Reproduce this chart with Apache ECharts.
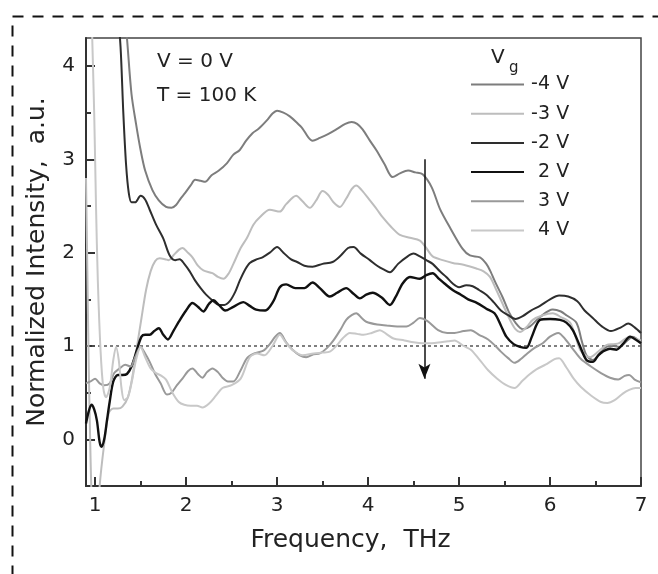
<!DOCTYPE html>
<html><head><meta charset="utf-8">
<script src="https://cdn.jsdelivr.net/npm/echarts@6/dist/echarts.min.js"></script>
<style>html,body{margin:0;padding:0;background:#fff}#c{width:658px;height:574px}</style>
</head><body><div id="c"></div>
<script>
const seriesNames = ['-4 V','-3 V','-2 V','2 V','3 V','4 V'];
const xTicks = [1,2,3,4,5,6,7];
const xMinor = [1.5,2.5,3.5,4.5,5.5,6.5];
const yTicks = [0,1,2,3,4];
const yMinor = [0.5,1.5,2.5,3.5];

const dataM4 = [[1.32,4.6],[1.35,4.3],[1.4,3.7],[1.45,3.38],[1.5,3.1],[1.55,2.88],[1.63,2.67],[1.7,2.56],[1.78,2.49],[1.84,2.48],[1.89,2.51],[1.94,2.58],[1.99,2.64],[2.05,2.72],[2.1,2.78],[2.16,2.77],[2.21,2.76],[2.28,2.83],[2.36,2.88],[2.45,2.96],[2.52,3.05],[2.59,3.1],[2.66,3.2],[2.73,3.28],[2.8,3.33],[2.89,3.42],[2.95,3.49],[3.0,3.52],[3.07,3.5],[3.14,3.46],[3.21,3.4],[3.28,3.33],[3.34,3.24],[3.39,3.2],[3.47,3.23],[3.56,3.27],[3.65,3.32],[3.75,3.38],[3.82,3.4],[3.88,3.38],[3.94,3.32],[4.02,3.2],[4.09,3.1],[4.18,2.95],[4.27,2.81],[4.35,2.85],[4.44,2.88],[4.52,2.86],[4.6,2.84],[4.7,2.7],[4.79,2.47],[4.9,2.27],[5.04,2.04],[5.12,1.97],[5.23,1.95],[5.3,1.88],[5.34,1.81],[5.41,1.66],[5.48,1.52],[5.55,1.36],[5.62,1.25],[5.7,1.18],[5.78,1.21],[5.89,1.31],[6.03,1.39],[6.12,1.37],[6.18,1.33],[6.29,1.25],[6.35,1.05],[6.4,0.9],[6.47,0.85],[6.55,0.92],[6.62,0.99],[6.7,1.0],[6.76,0.99],[6.85,1.06],[6.91,1.1],[7.0,1.03]];

const dataM3 = [[0.9,2.8],[0.915,1.8],[0.93,0.8],[0.95,-0.2],[0.97,-0.8],[1.0,-1.0],[1.03,-0.9],[1.05,-0.5],[1.1,-0.05],[1.15,0.28],[1.2,0.33],[1.25,0.33],[1.3,0.35],[1.36,0.45],[1.41,0.67],[1.46,0.99],[1.51,1.3],[1.56,1.6],[1.61,1.8],[1.66,1.91],[1.71,1.94],[1.77,1.93],[1.81,1.92],[1.86,1.97],[1.92,2.03],[1.96,2.05],[2.02,2.0],[2.07,1.95],[2.13,1.86],[2.19,1.81],[2.29,1.78],[2.35,1.74],[2.41,1.72],[2.47,1.78],[2.52,1.88],[2.6,2.05],[2.67,2.16],[2.74,2.3],[2.81,2.38],[2.92,2.46],[3.03,2.44],[3.1,2.52],[3.21,2.61],[3.28,2.55],[3.36,2.48],[3.43,2.56],[3.5,2.66],[3.56,2.62],[3.62,2.54],[3.69,2.49],[3.76,2.58],[3.82,2.68],[3.87,2.72],[3.93,2.67],[4.02,2.56],[4.1,2.46],[4.16,2.38],[4.25,2.28],[4.35,2.19],[4.46,2.16],[4.57,2.13],[4.64,2.05],[4.71,1.96],[4.82,1.92],[4.93,1.89],[5.05,1.87],[5.19,1.83],[5.27,1.8],[5.34,1.74],[5.41,1.6],[5.48,1.45],[5.56,1.28],[5.62,1.18],[5.67,1.15],[5.74,1.2],[5.81,1.28],[5.92,1.33],[6.03,1.35],[6.12,1.31],[6.22,1.25],[6.28,1.1],[6.33,0.96],[6.39,0.9],[6.44,0.88],[6.53,0.94],[6.62,1.01],[6.7,1.02],[6.76,1.03],[6.83,1.08],[6.88,1.1],[6.94,1.08],[7.0,1.06]];

const dataM2 = [[1.24,4.7],[1.28,4.2],[1.31,3.5],[1.34,2.95],[1.37,2.64],[1.4,2.54],[1.44,2.54],[1.5,2.61],[1.55,2.57],[1.6,2.46],[1.67,2.3],[1.75,2.15],[1.82,1.97],[1.88,1.92],[1.93,1.93],[1.98,1.88],[2.04,1.8],[2.1,1.7],[2.16,1.62],[2.22,1.55],[2.3,1.48],[2.36,1.44],[2.42,1.44],[2.48,1.48],[2.54,1.58],[2.59,1.7],[2.65,1.82],[2.7,1.89],[2.78,1.93],[2.84,1.95],[2.92,2.0],[3.0,2.06],[3.07,2.0],[3.15,1.93],[3.22,1.9],[3.3,1.86],[3.39,1.85],[3.5,1.88],[3.61,1.9],[3.7,1.97],[3.78,2.05],[3.84,2.06],[3.92,1.99],[4.02,1.92],[4.1,1.86],[4.17,1.82],[4.24,1.79],[4.33,1.88],[4.42,1.95],[4.5,1.99],[4.57,1.96],[4.64,1.92],[4.71,1.88],[4.79,1.8],[4.86,1.74],[4.93,1.67],[5.0,1.63],[5.08,1.65],[5.15,1.64],[5.22,1.6],[5.3,1.55],[5.38,1.47],[5.46,1.38],[5.54,1.33],[5.62,1.29],[5.7,1.32],[5.79,1.38],[5.89,1.43],[6.0,1.5],[6.1,1.54],[6.2,1.53],[6.3,1.48],[6.38,1.38],[6.47,1.3],[6.57,1.21],[6.67,1.16],[6.78,1.2],[6.86,1.24],[6.93,1.2],[7.0,1.14]];

const dataP2 = [[0.9,0.17],[0.93,0.3],[0.96,0.37],[0.99,0.32],[1.02,0.2],[1.05,-0.03],[1.07,-0.08],[1.1,0.0],[1.13,0.2],[1.16,0.4],[1.2,0.62],[1.25,0.69],[1.3,0.69],[1.35,0.7],[1.4,0.78],[1.46,0.96],[1.51,1.1],[1.55,1.12],[1.6,1.12],[1.65,1.16],[1.7,1.19],[1.75,1.12],[1.8,1.07],[1.86,1.16],[1.92,1.26],[2.0,1.38],[2.07,1.46],[2.13,1.42],[2.19,1.37],[2.25,1.45],[2.3,1.49],[2.36,1.44],[2.43,1.38],[2.52,1.42],[2.63,1.47],[2.7,1.43],[2.77,1.39],[2.87,1.38],[2.96,1.48],[3.03,1.63],[3.1,1.66],[3.2,1.62],[3.3,1.62],[3.39,1.68],[3.47,1.62],[3.58,1.53],[3.66,1.57],[3.76,1.62],[3.84,1.56],[3.91,1.51],[3.98,1.55],[4.05,1.57],[4.15,1.52],[4.24,1.44],[4.3,1.52],[4.38,1.67],[4.46,1.74],[4.57,1.72],[4.64,1.76],[4.71,1.78],[4.78,1.72],[4.84,1.67],[4.93,1.6],[5.02,1.55],[5.1,1.5],[5.2,1.46],[5.3,1.4],[5.39,1.35],[5.46,1.22],[5.52,1.1],[5.6,1.02],[5.67,0.99],[5.74,0.98],[5.8,1.1],[5.89,1.28],[6.0,1.29],[6.11,1.28],[6.18,1.25],[6.25,1.17],[6.32,1.02],[6.4,0.85],[6.47,0.83],[6.53,0.9],[6.58,0.94],[6.66,0.97],[6.73,0.96],[6.8,1.02],[6.88,1.1],[6.94,1.07],[7.0,1.03]];

const dataP3 = [[0.9,0.6],[0.95,0.62],[1.0,0.65],[1.05,0.6],[1.1,0.58],[1.16,0.6],[1.21,0.71],[1.27,0.76],[1.33,0.8],[1.39,0.78],[1.44,0.88],[1.5,0.99],[1.55,0.92],[1.6,0.83],[1.66,0.7],[1.72,0.6],[1.79,0.48],[1.84,0.5],[1.9,0.58],[1.96,0.65],[2.02,0.73],[2.07,0.76],[2.13,0.7],[2.18,0.66],[2.23,0.72],[2.29,0.76],[2.35,0.72],[2.4,0.66],[2.46,0.62],[2.52,0.62],[2.6,0.74],[2.67,0.87],[2.75,0.92],[2.85,0.95],[2.92,1.02],[2.98,1.1],[3.03,1.14],[3.1,1.04],[3.17,0.96],[3.25,0.9],[3.32,0.88],[3.4,0.91],[3.47,0.92],[3.55,0.98],[3.62,1.06],[3.7,1.18],[3.76,1.28],[3.82,1.33],[3.87,1.35],[3.93,1.3],[3.98,1.26],[4.1,1.23],[4.2,1.22],[4.32,1.21],[4.42,1.21],[4.5,1.25],[4.57,1.3],[4.65,1.27],[4.77,1.17],[4.87,1.14],[4.95,1.14],[5.05,1.16],[5.13,1.17],[5.22,1.12],[5.32,1.07],[5.4,1.0],[5.46,0.94],[5.54,0.87],[5.61,0.82],[5.68,0.86],[5.75,0.92],[5.83,0.98],[5.92,1.03],[6.0,1.1],[6.09,1.14],[6.17,1.07],[6.25,0.97],[6.34,0.86],[6.45,0.78],[6.56,0.71],[6.66,0.66],[6.75,0.64],[6.82,0.68],[6.87,0.69],[6.93,0.64],[7.0,0.61]];

const dataP4 = [[0.96,4.6],[0.99,3.5],[1.01,2.5],[1.03,1.7],[1.06,0.95],[1.09,0.55],[1.12,0.45],[1.16,0.55],[1.2,0.85],[1.23,0.99],[1.26,0.85],[1.29,0.55],[1.32,0.42],[1.36,0.45],[1.4,0.6],[1.45,0.85],[1.5,0.99],[1.55,0.88],[1.61,0.76],[1.67,0.71],[1.73,0.68],[1.78,0.64],[1.85,0.5],[1.92,0.4],[1.98,0.37],[2.05,0.36],[2.12,0.36],[2.18,0.34],[2.25,0.38],[2.33,0.47],[2.4,0.55],[2.5,0.58],[2.6,0.65],[2.7,0.88],[2.78,0.92],[2.86,0.9],[2.95,1.0],[3.03,1.12],[3.1,1.03],[3.18,0.95],[3.28,0.9],[3.4,0.92],[3.5,0.93],[3.58,0.94],[3.65,1.0],[3.72,1.08],[3.8,1.14],[3.88,1.13],[3.95,1.12],[4.04,1.14],[4.13,1.17],[4.2,1.13],[4.28,1.08],[4.4,1.06],[4.5,1.04],[4.6,1.03],[4.7,1.03],[4.8,1.04],[4.88,1.05],[4.95,1.06],[5.05,1.0],[5.13,0.96],[5.22,0.86],[5.32,0.74],[5.42,0.65],[5.52,0.58],[5.61,0.55],[5.7,0.63],[5.78,0.7],[5.85,0.75],[5.95,0.8],[6.05,0.86],[6.1,0.87],[6.18,0.77],[6.26,0.65],[6.34,0.56],[6.45,0.47],[6.56,0.4],[6.63,0.39],[6.71,0.42],[6.8,0.49],[6.87,0.53],[6.94,0.55],[7.0,0.55]];

const refLine = [[0.9,1],[7,1]];
const arrowFrom = [4.62,3.0];
const arrowTo = [4.62,0.65];

const seriesData = [dataM4, dataM3, dataM2, dataP2, dataP3, dataP4];
const colors = ['#7d7d7d','#bdbdbd','#2e2e2e','#111111','#999999','#c8c8c8'];
const widths = [2,2,2,2.4,2,2];
const FONT = 'DejaVu Sans';

const chart = echarts.init(document.getElementById('c'), null, {renderer:'canvas'});
const drawOrder = [5,4,1,0,3,2];
const series = drawOrder.map(i => ({
  name: seriesNames[i], type:'line', data: seriesData[i], symbol:'none', smooth:0.3,
  clip:true, lineStyle:{color:colors[i], width:widths[i]}, itemStyle:{color:colors[i], opacity:0},
  xAxisIndex:0, yAxisIndex:0, z: 3 + i
}));
series.unshift({
  type:'line', data: refLine, symbol:'none', silent:true,
  lineStyle:{color:'#555', width:1.5, type:[3,3]}, xAxisIndex:0, yAxisIndex:0, z:2,
  markLine:{silent:true, symbol:['none','arrow'], symbolSize:[9,15], label:{show:false},
    lineStyle:{color:'#111', width:1.5, type:'solid'},
    data:[[{coord:arrowFrom},{coord:arrowTo}]]}
});

const axisLineStyle = {color:'#333', width:2};
chart.setOption({
  animation:false,
  grid:{left:86, top:38, right:17, bottom:88, show:true, borderColor:'#444', borderWidth:1.5, backgroundColor:'#fff'},
  legend:{
    data: seriesNames, orient:'vertical', left:470, top:75, padding:0, itemWidth:53, itemHeight:20, itemGap:10.2,
    itemStyle:{opacity:0},
    textStyle:{fontFamily:FONT, fontSize:19, color:'#222', padding:[0,0,0,2],
      rich:{m:{width:7, fontFamily:FONT, fontSize:19, color:'#222'}, t:{fontFamily:FONT, fontSize:19, color:'#222'}}},
    formatter: n => n.startsWith('-') ? '{m|-}{t|' + n.slice(1) + '}' : '{m| }{t|' + n + '}',
    selectedMode:false
  },
  xAxis:[{
    type:'value', min:0.9, max:7, position:'bottom',
    name:'Frequency,  THz', nameLocation:'middle', nameGap:42,
    nameTextStyle:{fontFamily:FONT, fontSize:25, color:'#222', padding:[0,26,0,0]},
    axisLine:{show:true, onZero:false, lineStyle:axisLineStyle},
    axisTick:{show:true, inside:true, length:9, customValues:xTicks, lineStyle:{color:'#333', width:2}},
    axisLabel:{show:true, customValues:xTicks, margin:10, fontFamily:FONT, fontSize:20, color:'#222'},
    splitLine:{show:false}
  },{
    type:'value', min:0.9, max:7, position:'bottom', gridIndex:0,
    axisLine:{show:false, onZero:false}, axisLabel:{show:false}, splitLine:{show:false},
    axisTick:{show:true, inside:true, length:5, customValues:xMinor, lineStyle:{color:'#333', width:2}}
  }],
  yAxis:[{
    type:'value', min:-0.5, max:4.3, position:'left',
    name:'Normalized Intensity,  a.u.', nameLocation:'middle', nameGap:36,
    nameTextStyle:{fontFamily:FONT, fontSize:25, color:'#222'},
    axisLine:{show:true, onZero:false, lineStyle:axisLineStyle},
    axisTick:{show:true, inside:true, length:9, customValues:yTicks, lineStyle:{color:'#333', width:2}},
    axisLabel:{show:true, customValues:yTicks, margin:11, fontFamily:FONT, fontSize:20, color:'#222'},
    splitLine:{show:false}
  },{
    type:'value', min:-0.5, max:4.3, position:'left', gridIndex:0,
    axisLine:{show:false, onZero:false}, axisLabel:{show:false}, splitLine:{show:false},
    axisTick:{show:true, inside:true, length:5, customValues:yMinor, lineStyle:{color:'#333', width:2}}
  }],
  graphic:[
    {type:'rect', left:10, top:14, shape:{x:0,y:0,width:700,height:620}, style:{fill:'none', stroke:'#111', lineWidth:2, lineDash:[11,9]}, silent:true, z:-1},
    {type:'text', left:157, top:52, style:{text:'V = 0 V', font:'20px "DejaVu Sans"', fill:'#222'}},
    {type:'text', left:157, top:86, style:{text:'T = 100 K', font:'20px "DejaVu Sans"', fill:'#222'}},
    {type:'text', left:491, top:48, style:{text:'V', font:'20px "DejaVu Sans"', fill:'#222'}},
    {type:'text', left:509, top:61, style:{text:'g', font:'15px "DejaVu Sans"', fill:'#222'}}
  ],
  series: series
});
</script></body></html>
